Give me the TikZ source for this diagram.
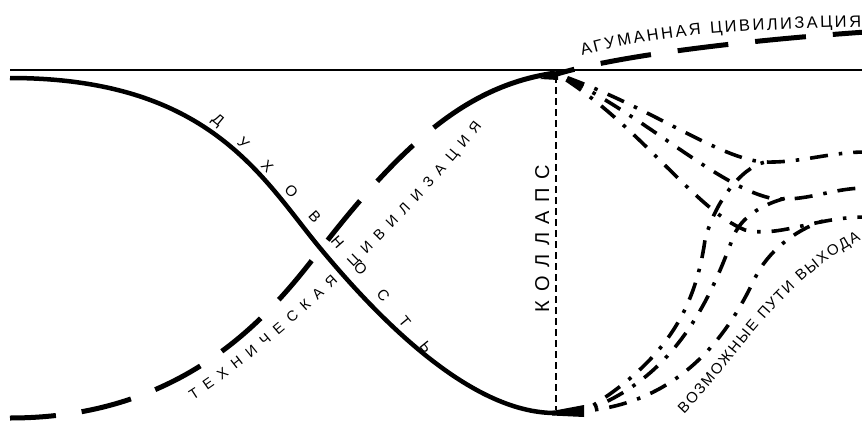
\documentclass[tikz,border=0pt]{standalone}
\usepackage{fontspec}
\newfontfamily\labelfont{Liberation Sans}
\usetikzlibrary{decorations.text}

\newcommand\spiritfont{\labelfont\fontsize{15pt}{16pt}\selectfont}
\newcommand\techfont{\labelfont\fontsize{14.5pt}{15pt}\selectfont}
\newcommand\collapsefont{\labelfont\fontsize{20pt}{21pt}\selectfont}
\newcommand\humanfont{\labelfont\fontsize{16.5pt}{17pt}\selectfont}
\newcommand\exitfont{\labelfont\fontsize{15pt}{16pt}\selectfont}

\begin{document}
\begin{tikzpicture}[x=1pt, y=-1pt,
		spirit/.style={line width=4.5pt},
		techline/.style={line width=5pt, dash pattern=on 46pt off 26pt on 51pt off 26pt on 51pt off 26pt on 51pt off 26pt on 51pt off 26pt on 51pt off 26pt on 51pt off 27pt on 200pt off 10pt},
		humanline/.style={line width=5pt, dash pattern=on 51pt off 27pt, dash phase=33pt},
		exitline/.style={line width=3.6pt, dash pattern=on 18pt off 11pt on 3.5pt off 11pt},
		fromtop/.style={exitline, dash phase=32.5pt},
		frombottom/.style={exitline, dash phase=18pt},
		curvedtext/.style={decorate, decoration={text along path, text align={fit to path}, text={#1}}}]
	\useasboundingbox (0,0) rectangle (862,423);

	\coordinate (top) at (557,74);
	\coordinate (bottom) at (584,411);
	\coordinate (j1) at (765,162);
	\coordinate (j2) at (795,196);
	\coordinate (j3) at (830,219);

	\draw[line width=1.8pt] (10,70) -- (862,70); % horizon
	\draw[line width=1.8pt, dash pattern=on 7pt off 4pt] (556,76) -- (556,410); % collapse line

	% spirituality
	\draw[spirit] (10,78) .. controls (210,78) and (262,178) .. (320,248)
		.. controls (378,318) and (470,413) .. (555,413);
	% technical civilisation
	\draw[techline] (10,418) .. controls (190,418) and (275,308) .. (320,250)
		.. controls (405,140) and (470,85) .. (555,73);
	% inhuman civilisation
	\draw[humanline] (top) .. controls (620,55) and (750,40) .. (866,32);

	% thick ends at the collapse
	\fill (540,79) -- (558,70) -- (558,80) -- cycle;
	\fill (552,411) -- (584,405) -- (584,417) -- (552,415.5) -- cycle;

	% ways out, from above
	\draw[fromtop] (top) .. controls (650,106) and (720,160) .. (j1)
		.. controls (800,163) and (830,152) .. (866,152);
	\draw[fromtop] (top) .. controls (640,112) and (715,185) .. (770,198)
		.. controls (805,203) and (830,188) .. (866,188);
	\draw[fromtop] (top) .. controls (640,125) and (695,210) .. (745,230)
		.. controls (780,238) and (815,217) .. (866,217);
	% ways out, from below
	\draw[frombottom] (bottom) .. controls (665,362) and (695,310) .. (705,240)
		.. controls (714,204) and (740,168) .. (j1);
	\draw[frombottom] (bottom) .. controls (672,380) and (708,305) .. (732,240)
		.. controls (740,216) and (765,202) .. (j2);
	\draw[frombottom] (bottom) .. controls (690,402) and (735,320) .. (755,278)
		.. controls (767,253) and (795,228) .. (j3);

	% labels
	\path[curvedtext={|\spiritfont|ДУХОВНОСТЬ}] (211,121) .. controls (265,164) and (360,274) .. (425,354);
	\path[curvedtext={|\techfont|ТЕХНИЧЕСКАЯ ЦИВИЛИЗАЦИЯ}] (193,400) .. controls (263,356) and (401,231) .. (482,126);
	\path[curvedtext={|\collapsefont|КОЛЛАПС}] (549,312) -- (549,165);
	\path[curvedtext={|\humanfont|АГУМАННАЯ ЦИВИЛИЗАЦИЯ}] (582,56) .. controls (640,40) and (700,30) .. (861,27);
	\path[curvedtext={|\exitfont|ВОЗМОЖНЫЕ ПУТИ ВЫХОДА}] (684,414) .. controls (735,362) and (781,280) .. (861,240);
\end{tikzpicture}
\end{document}
